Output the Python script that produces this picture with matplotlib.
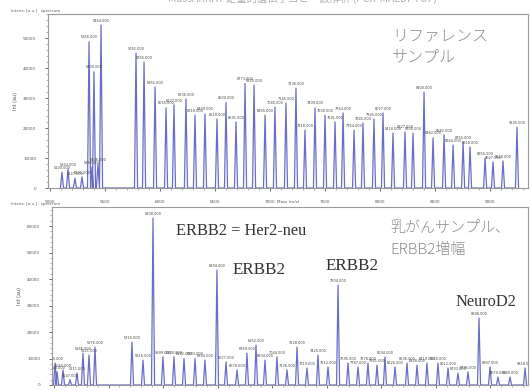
import numpy as np
import matplotlib.pyplot as plt
from matplotlib.ticker import MultipleLocator, FuncFormatter

plt.rcParams['font.family'] = ['DejaVu Sans']

# reference sample: peak m/z and intensity (x 10000)
ref_mz = [5109, 5164, 5227, 5291, 5355, 5382, 5400, 5436, 5464, 5782, 5855, 5955,
          6055, 6127, 6236, 6318, 6409, 6518, 6600, 6691, 6773, 6855, 6955, 7045,
          7145, 7236, 7318, 7409, 7500, 7591, 7664, 7764, 7845, 7945, 8027, 8118,
          8227, 8300, 8400, 8482, 8582, 8664, 8755, 8818, 8955, 9027, 9118, 9245]
ref_int = [0.53, 0.63, 0.33, 0.37, 4.87, 0.7, 3.87, 0.8, 5.43, 4.5, 4.2, 3.37,
           2.67, 2.77, 2.97, 2.43, 2.47, 2.3, 2.85, 2.2, 3.48, 3.43, 2.43, 2.7,
           2.83, 3.33, 1.93, 2.67, 2.43, 2.2, 2.5, 1.93, 2.17, 2.3, 2.5, 1.83,
           1.87, 1.83, 3.2, 1.67, 1.77, 1.43, 1.53, 1.37, 1.0, 0.87, 0.9, 2.03]

# breast cancer sample (ERBB2 amplified)
tum_mz = [5010, 5028, 5083, 5147, 5211, 5266, 5321, 5376, 5715, 5816, 5908, 5999,
          6100, 6192, 6293, 6384, 6494, 6577, 6678, 6769, 6852, 6934, 7044, 7136,
          7228, 7319, 7420, 7512, 7604, 7695, 7787, 7878, 7961, 8034, 8126, 8236,
          8328, 8419, 8520, 8612, 8703, 8795, 8896, 8997, 9070, 9180, 9318]
tum_int = [0.83, 0.5, 0.57, 0.2, 0.45, 1.2, 1.13, 1.43, 1.62, 0.94, 6.3, 1.06,
           1.06, 1.0, 1.0, 0.94, 4.34, 0.87, 0.57, 1.2, 1.5, 0.94, 1.06, 0.57,
           1.43, 0.64, 1.13, 0.68, 3.77, 0.83, 0.68, 0.83, 0.75, 1.06, 0.68, 0.83,
           0.75, 0.83, 0.83, 0.64, 0.45, 0.49, 2.53, 0.68, 0.3, 0.3, 0.64]

xticks = [5000, 5500, 6000, 6500, 7000, 7500, 8000, 8500, 9000]
line_col = '#6a6ec4'


def spectrum(mz, inten, w=14):
    # each peak drawn as a narrow spike on the baseline
    xs, ys = [], []
    for m, h in zip(mz, inten):
        xs += [m - w, m, m + w]
        ys += [0, h, 0]
    return xs, ys


def style(ax, ymax):
    ax.set_xlim(4982, 9345)
    ax.set_ylim(0, ymax)
    for s in ax.spines.values():
        s.set_color('#9a9a9a')
        s.set_linewidth(0.8)
    ax.set_xticks(xticks)
    ax.xaxis.set_minor_locator(MultipleLocator(100))
    ax.yaxis.set_major_locator(MultipleLocator(1))
    ax.yaxis.set_minor_locator(MultipleLocator(0.2))
    ax.yaxis.set_major_formatter(FuncFormatter(lambda v, p: f'{v * 10000:.0f}'))
    ax.tick_params(labelsize=3, colors='#555', length=2.5, width=0.6, pad=6)
    ax.tick_params(which='minor', length=1.5, width=0.4, colors='#777')


fig = plt.figure(figsize=(5.31, 3.91), dpi=100)
ax1 = fig.add_axes([48 / 531, 1 - 188 / 391, 480 / 531, 174 / 391])
ax2 = fig.add_axes([52 / 531, 1 - 385 / 391, 476 / 531, 178 / 391])

for ax, mz, inten, ymax in [(ax1, ref_mz, ref_int, 5.8), (ax2, tum_mz, tum_int, 6.72)]:
    xs, ys = spectrum(mz, inten)
    ax.plot(xs, ys, color=line_col, lw=0.9)
    for m, h in zip(mz, inten):
        ax.text(m, h + 0.08, f'{m:.3f}', fontsize=2.5, ha='center', va='bottom',
                color='#444', clip_on=True)
    style(ax, ymax)
    ax.set_ylabel('Int (au)', fontsize=3.5, color='#555', labelpad=4)

ax1.set_xlabel('Mass (m/z)', fontsize=3, color='#555', labelpad=1)
ax1.xaxis.set_label_coords(0.5, -0.07)
fig.text(0.02, 1 - 12 / 391, 'Intens. [a.u.]   spectrum', fontsize=3, color='#666')
fig.text(0.02, 1 - 205 / 391, 'Intens. [a.u.]   spectrum', fontsize=3, color='#666')

jp = ['Noto Sans CJK JP', 'DejaVu Sans']
fig.text(0.57, 1.004, 'MassARRAY 定量的遺伝子コピー数解析 (PCR-MALDI-TOF)', fontsize=7.5,
         color='#b0b0b0', ha='center', va='center', family=jp)

ax1.text(0.717, 0.874, 'リファレンス', transform=ax1.transAxes, fontsize=11.5,
         color='#8c8c8c', va='center', family=jp, fontweight='light')
ax1.text(0.717, 0.753, 'サンプル', transform=ax1.transAxes, fontsize=11.5,
         color='#8c8c8c', va='center', family=jp, fontweight='light')

serif = 'Liberation Serif'
ax2.text(0.26, 0.865, 'ERBB2 = Her2-neu', transform=ax2.transAxes, fontsize=11.8,
         color='#333', va='center', family=serif)
ax2.text(0.38, 0.646, 'ERBB2', transform=ax2.transAxes, fontsize=12.3,
         color='#333', va='center', family=serif)
ax2.text(0.574, 0.669, 'ERBB2', transform=ax2.transAxes, fontsize=12.3,
         color='#333', va='center', family=serif)
ax2.text(0.847, 0.466, 'NeuroD2', transform=ax2.transAxes, fontsize=11.8,
         color='#333', va='center', family=serif)
ax2.text(0.71, 0.882, '乳がんサンプル、', transform=ax2.transAxes, fontsize=10.8,
         color='#8c8c8c', va='center', family=jp, fontweight='light')
ax2.text(0.71, 0.758, 'ERBB2増幅', transform=ax2.transAxes, fontsize=10.8,
         color='#8c8c8c', va='center', family=jp, fontweight='light')

fig.savefig('out.png', dpi=100)
